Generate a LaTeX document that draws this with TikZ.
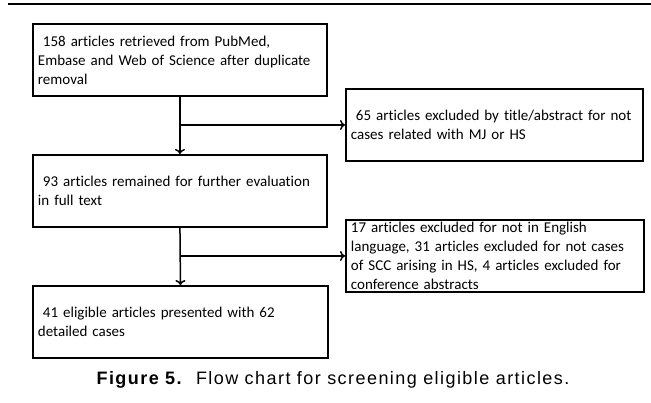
\documentclass[tikz,border=0pt]{standalone}
\usepackage{fontspec}
\setmainfont[Ligatures=NoCommon]{Carlito}
\newfontfamily\capfont[LetterSpace=8]{Liberation Sans}
\usetikzlibrary{arrows.meta}

\tikzset{
    stage/.style={draw, line width=1.9pt, anchor=north west, align=left,
        inner xsep=5pt, inner ysep=0pt, minimum height=72pt,
        font=\fontsize{15}{19}\selectfont},
    flow/.style={line width=1.5pt, -{To[length=5pt,width=10pt,line width=1.5pt]}}
}

\begin{document}
\begin{tikzpicture}[x=1pt,y=-1pt]
                \useasboundingbox (0,0) rectangle (651,402);
                \draw[line width=2.5pt] (8,4) -- (651,4);

                \node[stage, text width=284pt] (b1) at (32,23)
                    {\ 158 articles retrieved from PubMed,\\Embase and Web of Science after duplicate\\removal};
                \node[stage, text width=287pt] (b2) at (345,88)
                    {\ 65 articles excluded by title/abstract for not\\cases related with MJ or HS};
                \node[stage, text width=284pt] (b3) at (32,154)
                    {\ 93 articles remained for further evaluation\\in full text};
                \node[stage, text width=288pt] (b4) at (345,219)
                    {17 articles excluded for not in English\\language, 31 articles excluded for not cases\\of SCC arising in HS, 4 articles excluded for\\conference abstracts};
                \node[stage, text width=285pt] (b5) at (32,285)
                    {\ 41 eligible articles presented with 62\\detailed cases};

                \draw[flow] (b1.south) -- (b3.north);
                \draw[flow] (b1.south |- b2.west) -- (b2.west);
                \draw[flow] (b3.south) -- (b5.north);
                \draw[flow] (b3.south |- b4.west) -- (b4.west);

                \node[font=\capfont\fontsize{18}{20}\selectfont] (cap) at (333,380)
                    {\textbf{Figure 5.}\ \ Flow chart for screening eligible articles.};
            \end{tikzpicture}
\end{document}
